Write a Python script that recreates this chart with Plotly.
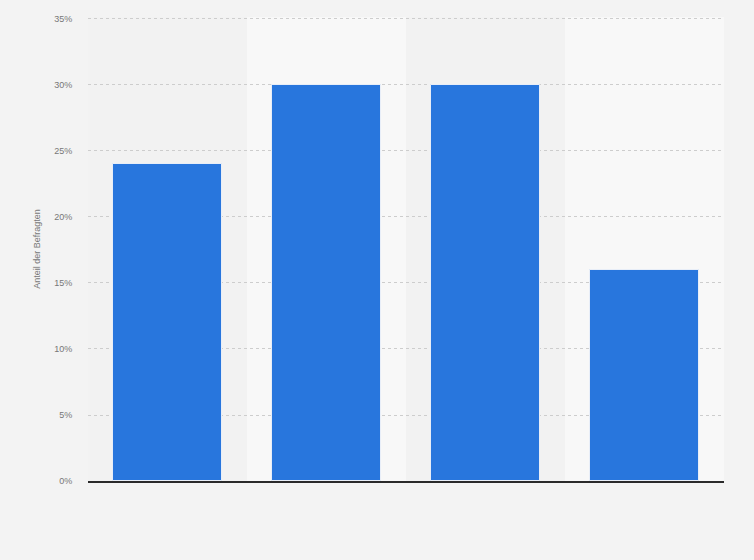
import plotly.graph_objects as go

categories = ["A", "B", "C", "D"]
values = [24, 30, 30, 16]
y_ticks = [0, 5, 10, 15, 20, 25, 30, 35]
y_tick_labels = [f"{v}%" for v in y_ticks]

fig = go.Figure()
fig.add_trace(go.Bar(
    x=list(range(len(categories))), y=values,
    marker=dict(color="#2876dd", line=dict(color="#e8eef8", width=1)),
    width=0.685, hoverinfo="y",
))

shapes = []
for i in range(len(categories)):
    shapes.append(dict(type="rect", xref="x", yref="paper", x0=i - 0.5, x1=i + 0.5, y0=0, y1=1,
                       fillcolor="#f8f8f8" if i % 2 == 1 else "#f2f2f2", line=dict(width=0), layer="below"))

fig.update_layout(
    width=754, height=560,
    margin=dict(l=88, r=30, t=17, b=79),
    paper_bgcolor="#f3f3f3", plot_bgcolor="#f2f2f2",
    shapes=shapes, showlegend=False, bargap=0,
    font=dict(family="Liberation Sans, Arial, sans-serif", size=10, color="#666"),
    xaxis=dict(range=[-0.5, len(categories) - 0.5], showticklabels=False, showgrid=False,
               zeroline=False, showline=True, linecolor="#2a2a2a", linewidth=1.5, ticks=""),
    yaxis=dict(range=[0, 35.15], tickvals=y_ticks, ticktext=y_tick_labels, showgrid=True,
               gridcolor="#cdcdcd", griddash="dot", gridwidth=1, zeroline=False,
               title=dict(text="Anteil der Befragten", font=dict(size=9, color="#777"), standoff=12),
               tickfont=dict(size=9, color="#777"), ticks="outside", ticklen=13,
               tickcolor="rgba(0,0,0,0)"),
)

fig.write_html("out.html", config={"displayModeBar": False},
               post_script="document.body.style.margin='0';")
